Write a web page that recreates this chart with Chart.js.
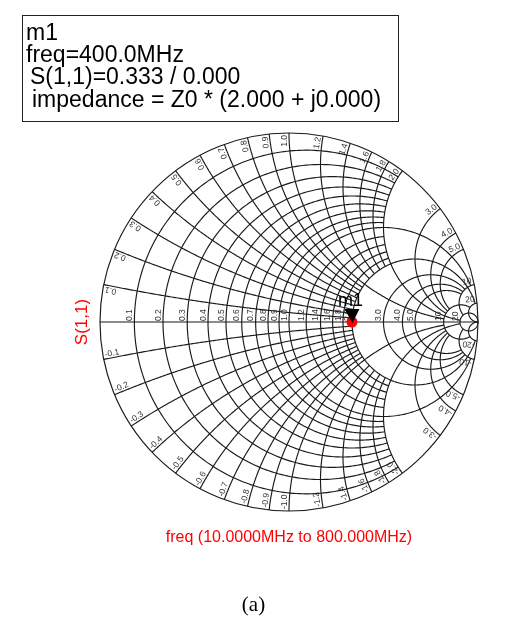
<!DOCTYPE html>
<html><head><meta charset="utf-8">
<script src="https://cdn.jsdelivr.net/npm/chart.js@4/dist/chart.umd.min.js"></script>
<style>
html,body{margin:0;padding:0;background:#fff}
body{width:507px;height:630px;position:relative;overflow:hidden;font-family:Arial,"Liberation Sans",sans-serif}
#box{position:absolute;left:22px;top:15px;width:377px;height:107px;border:1px solid #222;box-sizing:border-box}
.bl{position:absolute;font-size:23px;line-height:24px;white-space:pre;color:#000}
#cap{position:absolute;left:0;width:507px;text-align:center;top:592px;font-family:"Liberation Serif","Times New Roman",serif;font-size:21px;color:#000}
#c{position:absolute;left:0;top:0}
</style></head>
<body>
<canvas id="c" width="507" height="630"></canvas>
<div id="box">
 <div class="bl" style="left:3px;top:4px">m1</div>
 <div class="bl" style="left:3px;top:26px">freq=400.0MHz</div>
 <div class="bl" style="left:7px;top:48px">S(1,1)=0.333 / 0.000</div>
 <div class="bl" style="left:9px;top:71px">impedance = Z0 * (2.000 + j0.000)</div>
</div>
<div id="cap">(a)</div>
<script>
// ---- grid values (Smith chart) ----
const resistanceValues = [0.1,0.2,0.3,0.4,0.5,0.6,0.7,0.8,0.9,1.0,1.2,1.4,1.6,1.8,2.0,3.0,4.0,5.0,10,20];
const resistanceLimits = [2,2,2,2,2,2,2,2,2,10,2,2,2,2,20,10,10,10,20,Infinity];
const reactanceValues  = [0.1,0.2,0.3,0.4,0.5,0.6,0.7,0.8,0.9,1.0,1.2,1.4,1.6,1.8,2.0,3.0,4.0,5.0,10,20];
const reactanceLimits  = [2,2,2,2,2,2,2,2,2,10,2,2,2,2,20,10,10,10,20,Infinity];
const gridLabels = ['0.1','0.2','0.3','0.4','0.5','0.6','0.7','0.8','0.9','1.0','1.2','1.4','1.6','1.8','2.0','3.0','4.0','5.0','10','20'];
// ---- data ----
const traceName = 'S(1,1)';
const freqStart = '10.0000MHz', freqStop = '800.000MHz';
const markerName = 'm1';
const s11Magnitude = [0.333];
const s11AngleDeg = [0.000];

function gamma(r, x){
  const d=(r+1)*(r+1)+x*x;
  return [(r*r+x*x-1)/d, 2*x/d];
}
const tracePoints = s11Magnitude.map((m,i)=>({x:m*Math.cos(s11AngleDeg[i]*Math.PI/180), y:m*Math.sin(s11AngleDeg[i]*Math.PI/180)}));

const GRID='#1a1a1a', LBL='#333';
const smithGrid = {
  id:'smithGrid',
  beforeDatasetsDraw(chart){
    const ctx=chart.ctx, xs=chart.scales.x, ys=chart.scales.y;
    const P=(g)=>[xs.getPixelForValue(g[0]), ys.getPixelForValue(g[1])];
    const cx=xs.getPixelForValue(0), cy=ys.getPixelForValue(0);
    const R=xs.getPixelForValue(1)-cx;
    ctx.save();
    ctx.strokeStyle=GRID; ctx.lineWidth=1.15;
    const poly=(pts)=>{ctx.beginPath(); pts.forEach((p,i)=>{const q=P(p); i?ctx.lineTo(q[0],q[1]):ctx.moveTo(q[0],q[1]);}); ctx.stroke();};
    resistanceValues.forEach((r,i)=>{
      const L=resistanceLimits[i], c=r/(1+r), rad=1/(1+r);
      let a0=0, a1=2*Math.PI;
      if(isFinite(L)){const g=gamma(r,L); a0=Math.atan2(g[1],g[0]-c); a1=2*Math.PI-a0;}
      const pts=[]; const N=240;
      for(let k=0;k<=N;k++){const t=a0+(a1-a0)*k/N; pts.push([c+rad*Math.cos(t), rad*Math.sin(t)]);}
      poly(pts);
    });
    reactanceValues.forEach((xv,i)=>{
      const L=reactanceLimits[i];
      [xv,-xv].forEach(x=>{
        const cxx=1, cyy=1/x, rad=1/Math.abs(x);
        const g0=gamma(0,x), g1=isFinite(L)?gamma(L,x):[1,0];
        const b0=Math.atan2(g0[1]-cyy,g0[0]-cxx);
        let d=Math.atan2(g1[1]-cyy,g1[0]-cxx)-b0;
        while(d>Math.PI)d-=2*Math.PI; while(d<=-Math.PI)d+=2*Math.PI;
        const pts=[]; const N=200;
        for(let k=0;k<=N;k++){const t=b0+d*k/N; pts.push([cxx+rad*Math.cos(t), cyy+rad*Math.sin(t)]);}
        poly(pts);
      });
    });
    ctx.beginPath(); ctx.arc(cx,cy,R,0,2*Math.PI); ctx.stroke();
    ctx.beginPath(); ctx.moveTo(xs.getPixelForValue(-1),cy); ctx.lineTo(xs.getPixelForValue(1),cy); ctx.stroke();
    ctx.fillStyle=LBL; ctx.font='8.5px Arial, "Liberation Sans", sans-serif';
    ctx.textBaseline='bottom';
    resistanceValues.forEach((r,i)=>{
      const p=P(gamma(r,0));
      ctx.save(); ctx.translate(p[0]-0.5,p[1]-1); ctx.rotate(-Math.PI/2); ctx.textAlign='left'; ctx.fillText(gridLabels[i],0,0); ctx.restore();
    });
    reactanceValues.forEach((xv,i)=>{
      [1,-1].forEach(s=>{
        const g=gamma(0,s*xv); const th=Math.atan2(g[1],g[0]);
        const p=P([g[0]*0.995,g[1]*0.995]);
        const phi = s>0 ? th : th+Math.PI;
        ctx.save(); ctx.translate(p[0],p[1]); ctx.rotate(-phi);
        ctx.textAlign = s>0 ? 'right':'left';
        ctx.fillText((s<0?'-':'')+gridLabels[i], s>0?-1:1, 0); ctx.restore();
      });
    });
    ctx.restore();
  },
  afterDraw(chart){
    const ctx=chart.ctx, xs=chart.scales.x, ys=chart.scales.y;
    ctx.save();
    const p=[xs.getPixelForValue(tracePoints[0].x), ys.getPixelForValue(tracePoints[0].y)];
    ctx.fillStyle='#000';
    ctx.beginPath(); ctx.moveTo(p[0]-7.5,p[1]-13); ctx.lineTo(p[0]+7.5,p[1]-13); ctx.lineTo(p[0]+0.5,p[1]+1); ctx.closePath(); ctx.fill();
    ctx.font='18px Arial, "Liberation Sans", sans-serif'; ctx.textAlign='center'; ctx.textBaseline='alphabetic';
    ctx.fillText(markerName,p[0]-1.5,p[1]-16);
    ctx.fillStyle='#ff0000';
    ctx.font='16px Arial, "Liberation Sans", sans-serif';
    ctx.fillText('freq ('+freqStart+' to '+freqStop+')', xs.getPixelForValue(0), 542);
    ctx.font='17px Arial, "Liberation Sans", sans-serif';
    ctx.translate(87, ys.getPixelForValue(0)); ctx.rotate(-Math.PI/2);
    ctx.fillText(traceName,0,0);
    ctx.restore();
  }
};

new Chart(document.getElementById('c'),{
  type:'scatter',
  data:{datasets:[{label:traceName,data:tracePoints,pointRadius:5.5,pointHoverRadius:5.5,backgroundColor:'#ff0000',borderColor:'#ff0000',borderWidth:0,showLine:false}]},
  options:{
    responsive:false, animation:false, devicePixelRatio:1,
    layout:{padding:{left:100,right:29,top:133,bottom:119}},
    plugins:{legend:{display:false},tooltip:{enabled:false}},
    scales:{
      x:{type:'linear',min:-1,max:1,display:false},
      y:{type:'linear',min:-1,max:1,display:false}
    }
  },
  plugins:[smithGrid]
});
</script>
</body></html>
